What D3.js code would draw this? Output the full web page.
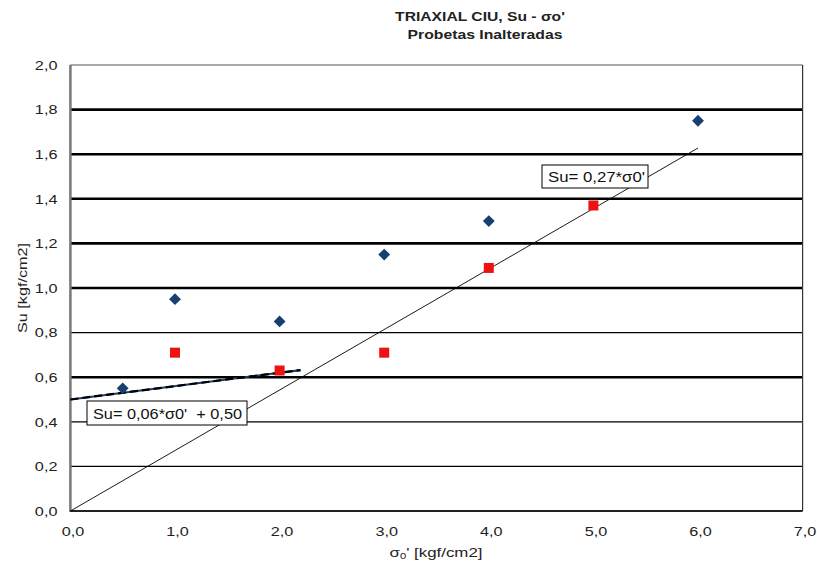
<!DOCTYPE html>
<html><head><meta charset="utf-8">
<script src="https://cdn.jsdelivr.net/npm/d3@7"></script>
<style>body{margin:0;background:#fff;} text{font-family:"Liberation Sans",Arial,sans-serif;}</style>
</head><body>
<svg id="c" width="817" height="569"></svg>
<script>
const xTicks = [0,1,2,3,4,5,6,7];
const yTicks = [0,0.2,0.4,0.6,0.8,1.0,1.2,1.4,1.6,1.8,2.0];
const thickGrid = [0.6,1.0,1.2,1.4,1.6,1.8];
const thinGrid = [0.2,0.4,0.8];
const blueX = [0.5,1.0,2.0,3.0,4.0,6.0];
const blueY = [0.55,0.95,0.85,1.15,1.30,1.75];
const redX = [1.0,2.0,3.0,4.0,5.0];
const redY = [0.71,0.63,0.71,1.09,1.37];
const fit1X = [0,6.0]; const fit1Slope = 0.2713;
const fit2X = [0,2.2]; const fit2Slope = 0.06, fit2Int = 0.50;

const svg = d3.select("#c");
const L=70.4, R=802.6, T=65, B=511;
const x = d3.scaleLinear().domain([0,7]).range([L,R]);
const y = d3.scaleLinear().domain([0,2]).range([B,T]);
const fmt = d => d.toFixed(1).replace(".",",");
function stretch(sel, f){ sel.each(function(){ const l=this.getComputedTextLength(); d3.select(this).attr("textLength",l*f).attr("lengthAdjust","spacingAndGlyphs"); }); }
function fitTo(sel, w){ sel.attr("textLength",w).attr("lengthAdjust","spacingAndGlyphs"); }
function ctext(cx, cy, rot, w, size, bold, build){
  const g = svg.append("g");
  const t = g.append("text").attr("x",0).attr("y",0).attr("text-anchor","middle")
    .attr("font-size",size).attr("font-weight",bold?"bold":"normal").attr("fill","#222");
  build(t);
  const l = t.node().getBBox().width;
  g.attr("transform",`translate(${cx},${cy}) rotate(${rot}) scale(${w/l},1)`);
  return t;
}

// grid
svg.selectAll(".gt").data(thickGrid).enter().append("line")
  .attr("x1",L).attr("x2",R).attr("y1",d=>y(d)).attr("y2",d=>y(d))
  .attr("stroke","#000").attr("stroke-width",2.6);
svg.selectAll(".gn").data(thinGrid).enter().append("line")
  .attr("x1",L).attr("x2",R).attr("y1",d=>y(d)).attr("y2",d=>y(d))
  .attr("stroke","#000").attr("stroke-width",1.2);
// border
svg.append("line").attr("x1",L).attr("x2",R).attr("y1",y(2)).attr("y2",y(2)).attr("stroke","#555").attr("stroke-width",1);
svg.append("line").attr("x1",R).attr("x2",R).attr("y1",y(2)).attr("y2",y(0)).attr("stroke","#333").attr("stroke-width",1.2);
svg.append("line").attr("x1",L).attr("x2",L).attr("y1",y(2)).attr("y2",y(0)+1).attr("stroke","#777").attr("stroke-width",2.5);
svg.append("line").attr("x1",L).attr("x2",R).attr("y1",y(0)).attr("y2",y(0)).attr("stroke","#222").attr("stroke-width",1.8);

// axes labels via d3 axes
const ax = svg.append("g").attr("transform",`translate(0,${B})`)
  .call(d3.axisBottom(x).tickValues(xTicks).tickFormat(fmt).tickSize(0).tickPadding(15));
ax.select(".domain").remove();
ax.selectAll("text").attr("font-size",13.5).attr("fill","#222").attr("dx",2).attr("font-family","Liberation Sans, Arial, sans-serif").call(stretch,1.2);
const ay = svg.append("g").attr("transform",`translate(${L},0)`)
  .call(d3.axisLeft(y).tickValues(yTicks).tickFormat(fmt).tickSize(0).tickPadding(13));
ay.select(".domain").remove();
ay.selectAll("text").attr("font-size",13.5).attr("fill","#222").attr("font-family","Liberation Sans, Arial, sans-serif").call(stretch,1.2);

// fit lines
svg.append("line").attr("x1",x(fit1X[0])).attr("y1",y(fit1X[0]*fit1Slope))
  .attr("x2",x(fit1X[1])).attr("y2",y(fit1X[1]*fit1Slope)).attr("stroke","#000").attr("stroke-width",0.9);
svg.append("line").attr("x1",x(fit2X[0])).attr("y1",y(fit2Int+fit2X[0]*fit2Slope))
  .attr("x2",x(fit2X[1])).attr("y2",y(fit2Int+fit2X[1]*fit2Slope)).attr("stroke","#1f3d6b").attr("stroke-width",2.2);
svg.append("line").attr("x1",x(fit2X[0])).attr("y1",y(fit2Int+fit2X[0]*fit2Slope))
  .attr("x2",x(fit2X[1])).attr("y2",y(fit2Int+fit2X[1]*fit2Slope)).attr("stroke","#000").attr("stroke-width",2.2).attr("stroke-dasharray","8,4");

// points
const blue = blueX.map((v,i)=>[v,blueY[i]]);
const red = redX.map((v,i)=>[v,redY[i]]);
svg.selectAll(".b").data(blue).enter().append("path")
  .attr("d",d3.symbol(d3.symbolSquare,70)())
  .attr("transform",d=>`translate(${x(d[0])},${y(d[1])}) rotate(45)`)
  .attr("fill","#173f70");
svg.selectAll(".r").data(red).enter().append("rect")
  .attr("x",d=>x(d[0])-5).attr("y",d=>y(d[1])-5).attr("width",10).attr("height",10)
  .attr("fill","#ee1111");

// equation boxes
function box(cx,cy,w,h,txt,tw){
  svg.append("rect").attr("x",cx).attr("y",cy).attr("width",w).attr("height",h)
    .attr("fill","#fff").attr("stroke","#000").attr("stroke-width",1);
  svg.append("text").attr("x",cx+6).attr("y",cy+h/2+5.5).attr("font-size",15).attr("fill","#111")
    .attr("xml:space","preserve").style("white-space","pre").text(txt).call(fitTo,tw);
}
box(542,165,106,23,"Su= 0,27*σ0'",97);
box(87,401,160,24,"Su= 0,06*σ0'  + 0,50",149);

// titles
ctext(480,21,0,170,13.5,true,t=>t.text("TRIAXIAL CIU, Su - σo'"));
ctext(485,39,0,155,13.5,true,t=>t.text("Probetas Inalteradas"));
ctext(436,557,0,93,13.5,false,t=>{
  t.append("tspan").text("σ");
  t.append("tspan").attr("font-size",9).attr("dy",2).text("0");
  t.append("tspan").attr("dy",-2).text("' [kgf/cm2]");
});
ctext(27,288,-90,90,13.5,false,t=>t.text("Su [kgf/cm2]"));
</script>
</body></html>
